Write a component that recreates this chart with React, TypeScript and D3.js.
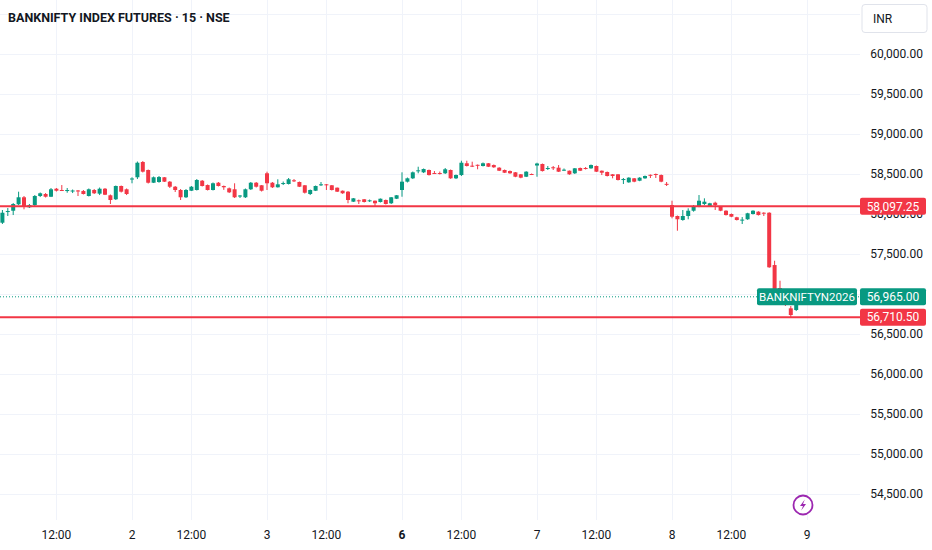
import * as d3 from "d3";

type Bar = [number, number, number, number]; // open, high, low, close

const title = "BANKNIFTY INDEX FUTURES · 15 · NSE";
const symbolLabel = "BANKNIFTYN2026";
const currency = "INR";

// session day labels; each session has 25 fifteen-minute bars, first session is unlabeled
const dayLabels = ["", "2", "3", "6", "7", "8", "9"];
const boldDays = ["6"];
const noonLabel = "12:00";
const noonOffset = 11; // 9:15 + 11 * 15min = 12:00
const barsPerDay = 25;

const priceTicks = [54500, 55000, 55500, 56000, 56500, 57000, 57500, 58000, 58500, 59000, 59500, 60000, 60500];
const hiddenTicks = [57000, 60500]; // covered by the last-price tag / off the scale
const resistance = 58097.25;
const support = 56710.5;
const lastPrice = 56965;

const day1: Bar[] = [
  [57850, 57937, 57825, 57912], [57891, 58050, 57875, 58016], [58025, 58075, 57975, 58037],
  [58041, 58137, 57987, 58125], [58121, 58279, 58112, 58209], [58209, 58225, 58059, 58091],
  [58084, 58125, 58075, 58112], [58112, 58237, 58100, 58225], [58225, 58269, 58212, 58259],
  [58250, 58262, 58206, 58216], [58216, 58325, 58212, 58309], [58316, 58325, 58281, 58291],
  [58300, 58362, 58287, 58291], [58287, 58325, 58266, 58300], [58281, 58306, 58262, 58294],
  [58294, 58300, 58225, 58287], [58287, 58300, 58244, 58250], [58225, 58319, 58219, 58309],
  [58300, 58312, 58250, 58259], [58254, 58331, 58237, 58316], [58316, 58325, 58237, 58241],
  [58234, 58244, 58125, 58175], [58184, 58356, 58175, 58350], [58350, 58356, 58269, 58279],
  [58309, 58319, 58237, 58250],
];

const day2: Bar[] = [
  [58431, 58459, 58384, 58444], [58459, 58656, 58437, 58641], [58650, 58662, 58519, 58529],
  [58550, 58556, 58381, 58391], [58391, 58469, 58387, 58459], [58400, 58475, 58391, 58462],
  [58459, 58462, 58400, 58404], [58404, 58412, 58325, 58341], [58341, 58350, 58275, 58300],
  [58300, 58312, 58175, 58209], [58209, 58312, 58200, 58300], [58291, 58350, 58287, 58341],
  [58300, 58437, 58294, 58425], [58416, 58425, 58344, 58350], [58362, 58369, 58294, 58300],
  [58300, 58394, 58294, 58384], [58391, 58400, 58344, 58350], [58350, 58356, 58302, 58334],
  [58321, 58331, 58262, 58271], [58309, 58384, 58200, 58209], [58219, 58237, 58200, 58231],
  [58209, 58319, 58200, 58309], [58309, 58400, 58300, 58391], [58391, 58400, 58331, 58341],
  [58359, 58362, 58281, 58291],
];

const day3: Bar[] = [
  [58509, 58529, 58300, 58384], [58391, 58400, 58325, 58334], [58334, 58434, 58331, 58371],
  [58377, 58406, 58362, 58387], [58375, 58450, 58369, 58434], [58421, 58437, 58400, 58412],
  [58400, 58406, 58337, 58341], [58359, 58362, 58256, 58266], [58250, 58306, 58237, 58300],
  [58291, 58356, 58287, 58350], [58362, 58400, 58350, 58371], [58371, 58375, 58300, 58362],
  [58359, 58362, 58294, 58300], [58329, 58331, 58275, 58279], [58291, 58294, 58252, 58259],
  [58279, 58287, 58134, 58175], [58154, 58200, 58150, 58196], [58171, 58181, 58125, 58162],
  [58184, 58187, 58144, 58150], [58162, 58181, 58150, 58171], [58166, 58169, 58091, 58134],
  [58150, 58194, 58144, 58191], [58175, 58181, 58119, 58125], [58134, 58212, 58125, 58209],
  [58191, 58237, 58187, 58234],
];

const day6: Bar[] = [
  [58300, 58521, 58216, 58404], [58404, 58456, 58394, 58446], [58446, 58531, 58437, 58521],
  [58537, 58591, 58509, 58546], [58521, 58569, 58512, 58562], [58550, 58556, 58481, 58487],
  [58512, 58537, 58500, 58505], [58512, 58531, 58494, 58505], [58509, 58575, 58500, 58559],
  [58550, 58556, 58440, 58446], [58446, 58494, 58437, 58487], [58487, 58666, 58475, 58641],
  [58634, 58666, 58594, 58600], [58604, 58654, 58587, 58596], [58615, 58619, 58559, 58609],
  [58600, 58644, 58594, 58634], [58634, 58637, 58587, 58591], [58612, 58619, 58577, 58584],
  [58579, 58585, 58537, 58541], [58550, 58556, 58512, 58516], [58537, 58544, 58502, 58509],
  [58521, 58525, 58460, 58466], [58496, 58500, 58447, 58454], [58466, 58535, 58462, 58529],
  [58500, 58506, 58487, 58492],
];

const day7: Bar[] = [
  [58606, 58641, 58466, 58631], [58625, 58631, 58531, 58537], [58565, 58600, 58550, 58575],
  [58584, 58600, 58550, 58575], [58579, 58612, 58525, 58529], [58546, 58569, 58537, 58554],
  [58541, 58544, 58490, 58496], [58509, 58575, 58500, 58571], [58575, 58581, 58537, 58541],
  [58575, 58587, 58556, 58567], [58571, 58619, 58565, 58612], [58600, 58606, 58525, 58529],
  [58541, 58544, 58487, 58516], [58525, 58531, 58469, 58475], [58496, 58500, 58446, 58475],
  [58496, 58500, 58419, 58425], [58430, 58450, 58375, 58437], [58396, 58460, 58390, 58454],
  [58446, 58450, 58397, 58404], [58416, 58460, 58410, 58454], [58446, 58481, 58440, 58475],
  [58490, 58494, 58450, 58484], [58500, 58506, 58450, 58492], [58487, 58494, 58397, 58404],
  [58377, 58400, 58350, 58370],
];

const day8: Bar[] = [
  [58112, 58166, 57946, 57966], [57975, 57981, 57791, 57934], [57925, 58050, 57916, 57975],
  [57975, 58071, 57934, 58041], [58041, 58112, 58029, 58091], [58091, 58237, 58085, 58166],
  [58125, 58196, 58112, 58154], [58100, 58140, 58094, 58134], [58141, 58154, 58050, 58112],
  [58091, 58097, 58035, 58041], [58041, 58047, 57981, 57987], [58000, 58006, 57960, 57966],
  [57959, 57965, 57919, 57925], [57921, 57962, 57875, 57930], [57934, 58015, 57927, 58009],
  [58000, 58047, 57994, 58041], [58029, 58035, 57981, 57987], [58016, 58022, 57975, 58009],
  [58016, 58022, 57327, 57334], [57362, 57416, 57037, 57050], [57075, 57166, 56925, 56950],
  [56962, 56987, 56850, 56875], [56821, 56850, 56710, 56737], [56800, 56987, 56787, 56965],
];

const sessions = [day1, day2, day3, day6, day7, day8];

const W = 932;
const H = 550;
const plotRight = 860;
const plotBottom = 520;
const UP = "#089981";
const DOWN = "#f23645";
const FONT = "Roboto, 'Noto Sans', sans-serif";
const TEXT = "#131722";

export default function App() {
  const bars = sessions.flatMap((s, d) => s.map((b, k) => ({ i: d * barsPerDay + k, b })));

  const x = d3.scaleLinear().domain([0, 150]).range([-3, 807]);
  const y = d3.scaleLinear().domain([54500, 60000]).range([494, 54]);
  const fmt = d3.format(",.2f");

  const timeTicks: { i: number; label: string; bold: boolean }[] = [];
  dayLabels.forEach((lbl, d) => {
    if (lbl) timeTicks.push({ i: d * barsPerDay, label: lbl, bold: boldDays.includes(lbl) });
    if (d < sessions.length) timeTicks.push({ i: d * barsPerDay + noonOffset, label: noonLabel, bold: false });
  });

  const bodyW = 4;
  const tagX = 860;
  const tagW = 66;
  const tagH = 17;

  const tag = (price: number, color: string) => (
    <g>
      <rect x={tagX} y={y(price) - tagH / 2} width={tagW} height={tagH} rx={2} fill={color} />
      <text x={tagX + tagW / 2} y={y(price)} dy="0.36em" textAnchor="middle" fill="#fff" fontSize={12}>
        {fmt(price)}
      </text>
    </g>
  );

  return (
    <div style={{ position: "absolute", left: 0, top: 0 }}>
      <svg width={W} height={H} style={{ display: "block", background: "#fff", fontFamily: FONT }}>
        <defs>
          <clipPath id="plot">
            <rect x={0} y={0} width={plotRight} height={plotBottom} />
          </clipPath>
        </defs>

        {/* grid */}
        <g stroke="#f0f3fa" strokeWidth={1}>
          {priceTicks.map((p) => (
            <line key={p} x1={0} x2={plotRight} y1={Math.round(y(p)) + 0.5} y2={Math.round(y(p)) + 0.5} />
          ))}
          {timeTicks.map((t) => (
            <line key={t.i} x1={Math.round(x(t.i)) + 0.5} x2={Math.round(x(t.i)) + 0.5} y1={0} y2={plotBottom} />
          ))}
        </g>

        {/* title */}
        <text x={8} y={22} fontSize={12.5} fontWeight={700} fill={TEXT}>
          {title}
        </text>

        <g clipPath="url(#plot)">
          {/* candles */}
          {bars.map(({ i, b }) => {
            const [o, h, l, c] = b;
            const col = c >= o ? UP : DOWN;
            const cx = x(i);
            const top = y(Math.max(o, c));
            const bh = Math.max(1, Math.abs(y(o) - y(c)));
            return (
              <g key={i} fill={col}>
                <rect x={cx - 0.5} y={y(h)} width={1} height={y(l) - y(h)} />
                <rect x={cx - bodyW / 2} y={top} width={bodyW} height={bh} />
              </g>
            );
          })}

          {/* horizontal levels */}
          <line x1={0} x2={plotRight} y1={y(resistance)} y2={y(resistance)} stroke={DOWN} strokeWidth={2} />
          <line x1={0} x2={plotRight} y1={y(support)} y2={y(support)} stroke={DOWN} strokeWidth={2} />
          <line x1={0} x2={plotRight} y1={y(lastPrice)} y2={y(lastPrice)} stroke={UP} strokeWidth={1} strokeDasharray="1,2" />
        </g>

        {/* price axis labels */}
        <g fontSize={12} fill={TEXT}>
          {priceTicks
            .filter((p) => !hiddenTicks.includes(p))
            .map((p) => (
              <text key={p} x={923} y={y(p)} dy="0.36em" textAnchor="end">
                {fmt(p)}
              </text>
            ))}
        </g>

        {/* time axis labels */}
        <g fontSize={12} fill={TEXT}>
          {timeTicks.map((t) => (
            <text key={t.i} x={x(t.i)} y={535} dy="0.36em" textAnchor="middle" fontWeight={t.bold ? 700 : 400}>
              {t.label}
            </text>
          ))}
        </g>

        {/* price tags */}
        {tag(resistance, DOWN)}
        {tag(support, DOWN)}
        <g>
          <rect x={757} y={y(lastPrice) - tagH / 2} width={100} height={tagH} rx={2} fill={UP} />
          <text x={807} y={y(lastPrice)} dy="0.36em" textAnchor="middle" fill="#fff" fontSize={11.5}>
            {symbolLabel}
          </text>
        </g>
        {tag(lastPrice, UP)}

        {/* currency box */}
        <rect x={862} y={4.5} width={65} height={28} rx={3} fill="#fff" stroke="#e0e3eb" />
        <text x={873} y={18.5} dy="0.36em" fontSize={12} fill={TEXT}>
          {currency}
        </text>

        {/* lightning badge */}
        <g transform="translate(803,505)">
          <circle r={9.5} fill="#fff" stroke="#9c27b0" strokeWidth={1.8} />
          <path d="M1.8,-5.5 L-3,1 L0,1 L-1.8,5.5 L3,-1 L0,-1 Z" fill="#9c27b0" />
        </g>
      </svg>
    </div>
  );
}
